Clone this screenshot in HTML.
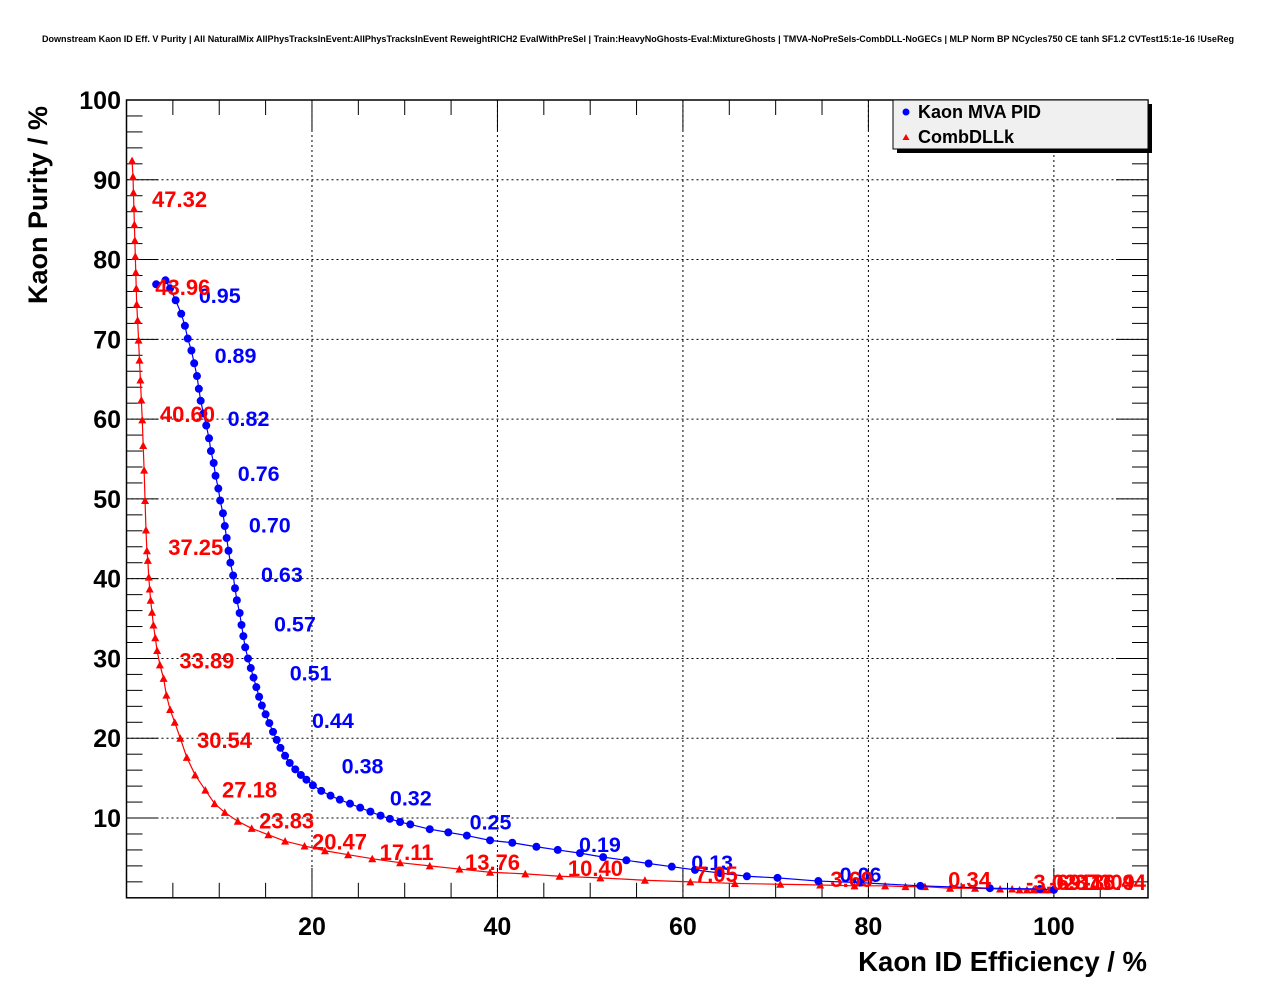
<!DOCTYPE html>
<html><head><meta charset="utf-8"><style>
body{margin:0;background:#fff;}
svg{display:block;font-family:"Liberation Sans",sans-serif;}
</style></head><body>
<svg id="c" width="1276" height="996" viewBox="0 0 1276 996">
<rect width="1276" height="996" fill="#fff"/>
<text x="638" y="42" font-size="9" font-weight="bold" text-anchor="middle" textLength="1192" lengthAdjust="spacingAndGlyphs">Downstream Kaon ID Eff. V Purity | All NaturalMix AllPhysTracksInEvent:AllPhysTracksInEvent ReweightRICH2 EvalWithPreSel | Train:HeavyNoGhosts-Eval:MixtureGhosts | TMVA-NoPreSels-CombDLL-NoGECs | MLP Norm BP NCycles750 CE tanh SF1.2 CVTest15:1e-16 !UseReg</text>
<g id="grid"></g>
<g id="axes"></g>
<g id="series"></g>
<text x="1147" y="971" font-size="27.5" font-weight="bold" text-anchor="end">Kaon ID Efficiency / %</text>
<text transform="translate(47,304) rotate(-90)" font-size="27" font-weight="bold">Kaon Purity / %</text>
<g>
<rect x="897" y="104" width="255" height="49" fill="#000"/>
<rect x="893" y="100" width="255" height="49" fill="#f0f0f0" stroke="#000" stroke-width="1"/>
<circle cx="906" cy="112" r="3.5" fill="#00f"/>
<text x="918" y="118" font-size="18" font-weight="bold">Kaon MVA PID</text>
<path d="M902.5 140 L906 134 L909.5 140 Z" fill="#f00"/>
<text x="918" y="143" font-size="18" font-weight="bold">CombDLLk</text>
</g>
</svg>
<script>
const xTicks=[20,40,60,80,100];
const yTicks=[10,20,30,40,50,60,70,80,90,100];
const mvaEff=[3.2,4.2,4.7,5.3,5.9,6.3,6.6,7.0,7.3,7.6,7.8,8.0,8.3,8.6,8.9,9.1,9.4,9.6,9.9,10.1,10.4,10.6,10.8,11.0,11.2,11.5,11.7,11.9,12.2,12.4,12.6,12.8,13.1,13.4,13.7,14.0,14.3,14.6,15.0,15.4,15.8,16.2,16.6,17.1,17.6,18.2,18.8,19.4,20.1,21.0,22.0,23.0,24.1,25.2,26.3,27.4,28.4,29.5,30.6,32.7,34.7,36.7,39.2,41.6,44.2,46.5,48.9,51.4,53.9,56.3,58.8,61.3,64.0,66.9,70.2,74.6,79.1,85.6,93.1,98.5,100.0];
const mvaPur=[76.9,77.4,76.4,74.9,73.2,71.7,70.1,68.6,67.0,65.4,63.8,62.3,60.7,59.2,57.6,56.0,54.5,52.9,51.3,49.8,48.2,46.6,45.1,43.5,42.0,40.4,38.8,37.3,35.7,34.2,32.8,31.4,30.0,28.8,27.6,26.4,25.2,24.1,23.0,21.9,20.8,19.8,18.8,17.8,16.9,16.1,15.4,14.8,14.1,13.4,12.8,12.3,11.8,11.3,10.8,10.3,9.9,9.5,9.2,8.6,8.2,7.8,7.2,6.9,6.4,6.0,5.6,5.1,4.7,4.3,3.9,3.5,3.1,2.7,2.5,2.1,1.9,1.5,1.2,1.1,1.0];
const mvaLabels=["0.95","0.89","0.82","0.76","0.70","0.63","0.57","0.51","0.44","0.38","0.32","0.25","0.19","0.13","0.06"];
const mvaLabelX=[7.8,9.5,10.9,12.0,13.2,14.5,15.9,17.6,20.0,23.2,28.4,37.0,48.8,60.9,76.9];
const mvaLabelY=[75.5,68.0,60.1,53.2,46.7,40.5,34.3,28.2,22.2,16.5,12.5,9.5,6.7,4.4,2.9];
const dllEff=[0.6,0.7,0.75,0.8,0.85,0.9,0.95,1.0,1.05,1.1,1.2,1.3,1.4,1.5,1.6,1.7,1.8,1.9,2.0,2.1,2.2,2.3,2.4,2.5,2.6,2.75,2.9,3.1,3.3,3.6,4.0,4.3,4.7,5.2,5.8,6.5,7.4,8.5,9.5,10.6,12.0,13.5,15.3,17.1,19.2,21.4,23.9,26.5,29.5,32.7,35.9,39.2,43.0,46.7,51.1,55.9,60.8,65.6,70.5,74.8,78.5,81.8,84.0,86.1,88.8,91.5,94.2,95.5,96.3,97.1,97.8,98.4,99.0,99.6];
const dllPur=[92.4,90.4,88.4,86.4,84.4,82.4,80.4,78.4,76.4,74.4,72.4,69.9,67.4,64.9,62.4,59.9,56.7,53.6,49.8,46.1,43.5,42.3,40.2,38.7,37.3,35.8,34.2,32.6,31.0,29.2,27.5,25.4,23.6,22.0,20.0,17.6,15.4,13.5,11.8,10.7,9.6,8.7,7.9,7.1,6.5,5.9,5.4,4.9,4.4,4.0,3.6,3.2,3.0,2.7,2.5,2.2,2.0,1.8,1.7,1.6,1.5,1.5,1.4,1.4,1.2,1.2,1.1,1.1,1.0,1.0,1.0,1.0,1.0,1.0];
const dllLabels=["47.32","43.96","40.60","37.25","33.89","30.54","27.18","23.83","20.47","17.11","13.76","10.40","7.05","3.69","0.34","-3.02","-6.37","-9.73","-13.09","-16.44"];
const dllLabelX=[2.75,3.1,3.6,4.5,5.7,7.6,10.3,14.3,20.0,27.3,36.5,47.6,61.3,75.9,88.6,97.0,99.5,100.8,102.0,103.2];
const dllLabelY=[87.5,76.5,60.6,43.9,29.7,19.7,13.5,9.6,7.0,5.7,4.4,3.7,2.9,2.3,2.2,1.9,1.9,1.9,1.9,1.9];

const X0=126.5,X1=1148,Y0=897.8,Y1=100;
const xs=v=>X0+v*(X1-X0)/110.15;
const ys=v=>Y0-v*(Y0-Y1)/100;
const NS='http://www.w3.org/2000/svg';
function mk(tag,attrs,parent){const e=document.createElementNS(NS,tag);for(const k in attrs)e.setAttribute(k,attrs[k]);parent.appendChild(e);return e;}
const grid=document.getElementById('grid'),axes=document.getElementById('axes'),ser=document.getElementById('series');
xTicks.forEach(t=>{const l=mk('line',{x1:xs(t),x2:xs(t),y1:Y1,y2:Y0,stroke:'#000','stroke-dasharray':'2,3','stroke-width':1},grid);

});
yTicks.forEach(t=>{if(t>=100)return;const l=mk('line',{x1:X0,x2:X1,y1:ys(t),y2:ys(t),stroke:'#000','stroke-dasharray':'2,3','stroke-width':1},grid);

});
const fr=mk('rect',{x:X0,y:Y1,width:X1-X0,height:Y0-Y1,fill:'none',stroke:'#000','stroke-width':1.5},axes);


for(let v=5;v<110;v+=5){const L=(v%20===0)?30:15;
mk('line',{x1:xs(v),x2:xs(v),y1:Y0,y2:Y0-L,stroke:'#000','stroke-width':1},axes);
mk('line',{x1:xs(v),x2:xs(v),y1:Y1,y2:Y1+L,stroke:'#000','stroke-width':1},axes);}
for(let v=2;v<100;v+=2){const L=(v%10===0)?32:16;
mk('line',{x1:X0,x2:X0+L,y1:ys(v),y2:ys(v),stroke:'#000','stroke-width':1},axes);
mk('line',{x1:X1,x2:X1-L,y1:ys(v),y2:ys(v),stroke:'#000','stroke-width':1},axes);}
xTicks.forEach(t=>{const tx=mk('text',{x:xs(t),y:935,'font-size':25,'font-weight':'bold','text-anchor':'middle'},axes);tx.textContent=t;

});
yTicks.forEach(t=>{const tx=mk('text',{x:121,y:ys(t)+9,'font-size':25,'font-weight':'bold','text-anchor':'end'},axes);tx.textContent=t;

});
const rp=mk('polyline',{points:dllEff.map((v,i)=>xs(v)+','+ys(dllPur[i])).join(' '),fill:'none',stroke:'#f00','stroke-width':1.2},ser);


dllEff.forEach((v,i)=>{const x=xs(v),y=ys(dllPur[i]);const p=mk('path',{d:`M${x-4} ${y+3.5} L${x} ${y-4} L${x+4} ${y+3.5} Z`,fill:'#f00'},ser);

});
const bp=mk('polyline',{points:mvaEff.map((v,i)=>xs(v)+','+ys(mvaPur[i])).join(' '),fill:'none',stroke:'#00f','stroke-width':1.2},ser);


mvaEff.forEach((v,i)=>{const c=mk('circle',{cx:xs(v),cy:ys(mvaPur[i]),r:4,fill:'#00f'},ser);

});
mvaLabels.forEach((s,i)=>{const t=mk('text',{x:xs(mvaLabelX[i]),y:ys(mvaLabelY[i])+7.5,'font-size':21.5,'font-weight':'bold',fill:'#00f'},ser);t.textContent=s;

});
dllLabels.forEach((s,i)=>{const t=mk('text',{x:xs(dllLabelX[i]),y:ys(dllLabelY[i])+7.5,'font-size':22,'font-weight':'bold',fill:'#f00'},ser);t.textContent=s;

});
</script>
</body></html>
